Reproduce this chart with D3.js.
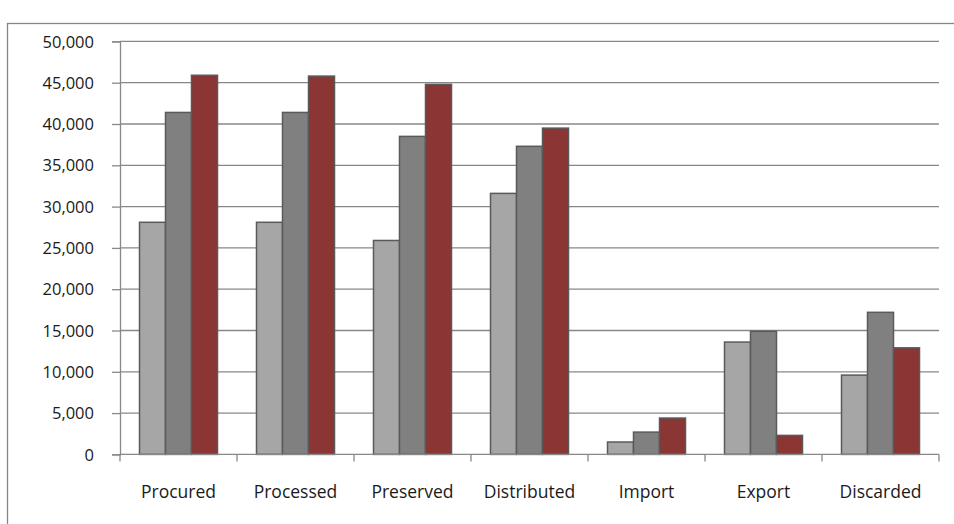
<!DOCTYPE html>
<html>
<head>
<meta charset="utf-8">
<script src="https://cdn.jsdelivr.net/npm/d3@7"></script>
<style>
  html, body { margin: 0; padding: 0; background: #fff; }
  svg { display: block; }
  text { font-family: "Open Sans", sans-serif; fill: #1a1a1a; }
</style>
</head>
<body>
<svg id="chart" width="954" height="524"></svg>
<script>
const categories = ["Procured", "Processed", "Preserved", "Distributed", "Import", "Export", "Discarded"];
const seriesNames = ["Series A", "Series B", "Series C"];
const seriesA = [28100, 28100, 25900, 31600, 1500, 13600, 9600];
const seriesB = [41400, 41400, 38500, 37300, 2700, 14900, 17200];
const seriesC = [45900, 45800, 44800, 39500, 4400, 2300, 12900];
const yTicks = [0, 5000, 10000, 15000, 20000, 25000, 30000, 35000, 40000, 45000, 50000];
const colors = ["#a6a6a6", "#808080", "#8b3535"];

(function () {
const series = [seriesA, seriesB, seriesC];
const svg = d3.select("#chart");
const pLeft = 120, pRight = 939, pTop = 41.4, pBottom = 454.4;

// outer border
svg.append("rect")
  .attr("x", 7.5).attr("y", 23.5)
  .attr("width", 960).attr("height", 520)
  .attr("fill", "none").attr("stroke", "#868686").attr("stroke-width", 1.3);

const y = d3.scaleLinear().domain([0, 50000]).range([pBottom, pTop]);
const x0 = d3.scaleBand().domain(categories).range([pLeft, pRight])
  .paddingInner(1/3).paddingOuter(1/6);
const x1 = d3.scaleBand().domain(seriesNames).range([0, x0.bandwidth()]);

// gridlines
svg.append("g").selectAll("line").data(yTicks.filter(d => d > 0)).join("line")
  .attr("x1", pLeft).attr("x2", pRight)
  .attr("y1", d => y(d)).attr("y2", d => y(d))
  .attr("stroke", "#888").attr("stroke-width", 1.3);

// y axis
const yAxis = d3.axisLeft(y).tickValues(yTicks).tickSize(8).tickPadding(18)
  .tickFormat(d3.format(","));
const ya = svg.append("g").attr("transform", `translate(${pLeft},0)`).call(yAxis);
ya.select(".domain").attr("stroke", "#888").attr("stroke-width", 1.3);
ya.selectAll(".tick line").attr("stroke", "#888").attr("stroke-width", 1.3);
ya.selectAll("text").style("font-size", "16.5px").attr("fill", "#1a1a1a")
  .attr("dy", "0.34em").style("font-family", "'Open Sans', sans-serif");

// bars
const groups = svg.append("g").selectAll("g").data(categories).join("g")
  .attr("transform", d => `translate(${x0(d)},0)`);
groups.selectAll("rect")
  .data((c, i) => series.map((s, k) => ({ key: seriesNames[k], value: s[i], k })))
  .join("rect")
  .attr("x", d => x1(d.key))
  .attr("width", x1.bandwidth())
  .attr("y", d => y(d.value))
  .attr("height", d => y(0) - y(d.value))
  .attr("fill", d => colors[d.k])
  .attr("stroke", "#5a5a5a").attr("stroke-width", 1.5);

// x axis baseline + ticks at category boundaries
const step = x0.step();
svg.append("line").attr("x1", pLeft).attr("x2", pRight)
  .attr("y1", pBottom).attr("y2", pBottom)
  .attr("stroke", "#888").attr("stroke-width", 1.3);
svg.append("g").selectAll("line").data(d3.range(categories.length + 1)).join("line")
  .attr("x1", i => pLeft + i * step).attr("x2", i => pLeft + i * step)
  .attr("y1", pBottom).attr("y2", pBottom + 7)
  .attr("stroke", "#888").attr("stroke-width", 1.3);

// category labels
svg.append("g").selectAll("text").data(categories).join("text")
  .attr("x", d => x0(d) + x0.bandwidth() / 2)
  .attr("y", 498)
  .attr("text-anchor", "middle")
  .style("font-size", "17.5px")
  .text(d => d);
})();
</script>
</body>
</html>
